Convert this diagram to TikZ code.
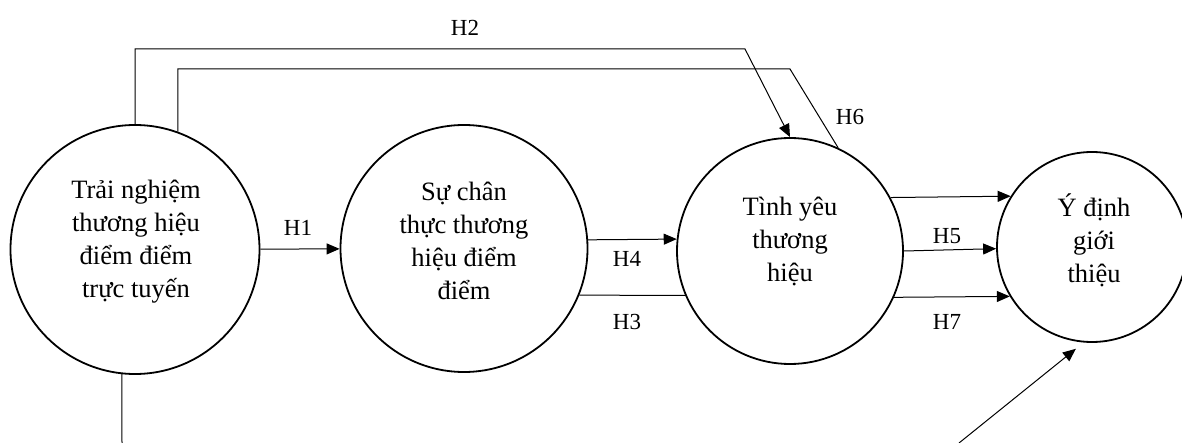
\documentclass[tikz,border=0pt]{standalone}
\usepackage{fontspec}
\setmainfont{Liberation Serif}
\usetikzlibrary{arrows.meta}

\begin{document}
\begin{tikzpicture}[x=1pt, y=-1pt]
    % Styles
    \tikzstyle{construct} = [circle, draw=black, line width=1.8pt, inner sep=0pt]
    \tikzstyle{ctext} = [align=center, font=\fontsize{26.5}{33}\selectfont]
    \tikzstyle{hyp} = [font=\fontsize{23}{27}\selectfont]
    \tikzstyle{link} = [line width=1pt, black]
    \tikzstyle{arrow} = [link, -{Triangle[length=13pt, width=11pt]}]

    \useasboundingbox (0,0) rectangle (1182,443);

    % Construct circles - explicit coordinates
    \node[construct, minimum size=249pt] (tn) at (135,249.5) {};
    \node[construct, minimum size=247pt] (sc) at (464,248.5) {};
    \node[construct, minimum size=226pt] (ty) at (790,251) {};
    \node[construct, minimum size=190pt] (yd) at (1092,247) {};

    % Construct texts
    \node[ctext] (tntext) at (136,242) {Trải nghiệm\\thương hiệu\\điểm điểm\\trực tuyến};
    \node[ctext] (sctext) at (464,241) {Sự chân\\thực thương\\hiệu điểm\\điểm};
    \node[ctext] (tytext) at (790,241) {Tình yêu\\thương\\hiệu};
    \node[ctext] (ydtext) at (1094,240) {Ý định\\giới\\thiệu};

    % Bends and loose ends
    \coordinate (h2bend) at (745,49);
    \coordinate (h6bend) at (790,69);
    \coordinate (tnout) at (122,443);
    \coordinate (ydin) at (959,443);

    % Arrows
    \draw[arrow] (tn) -- (sc);
    \draw[arrow] (tn.north) |- (h2bend) -- (ty.north);
    \draw[link] (tn.70) |- (h6bend) -- (ty.65);
    \draw[arrow] (sc.4) -- (ty.174);
    \draw[link] (sc.-22.6) -- (ty.203.5);
    \draw[arrow] (ty.28.5) -- (yd.148.2);
    \draw[arrow] (ty.0.5) -- (yd.181.8);
    \draw[arrow] (ty.-24) -- (yd.211.8);
    \draw[link] (tn.-96) -- (tnout);
    \draw[arrow, shorten >=10pt] (ydin) -- (yd.-95);

    % Hypothesis labels
    \node[hyp] (h1) at (298,228) {H1};
    \node[hyp] (h2) at (465,28) {H2};
    \node[hyp] (h3) at (627,322) {H3};
    \node[hyp] (h4) at (627,259) {H4};
    \node[hyp] (h5) at (947,236) {H5};
    \node[hyp] (h6) at (850,117) {H6};
    \node[hyp] (h7) at (947,322) {H7};
\end{tikzpicture}
\end{document}
